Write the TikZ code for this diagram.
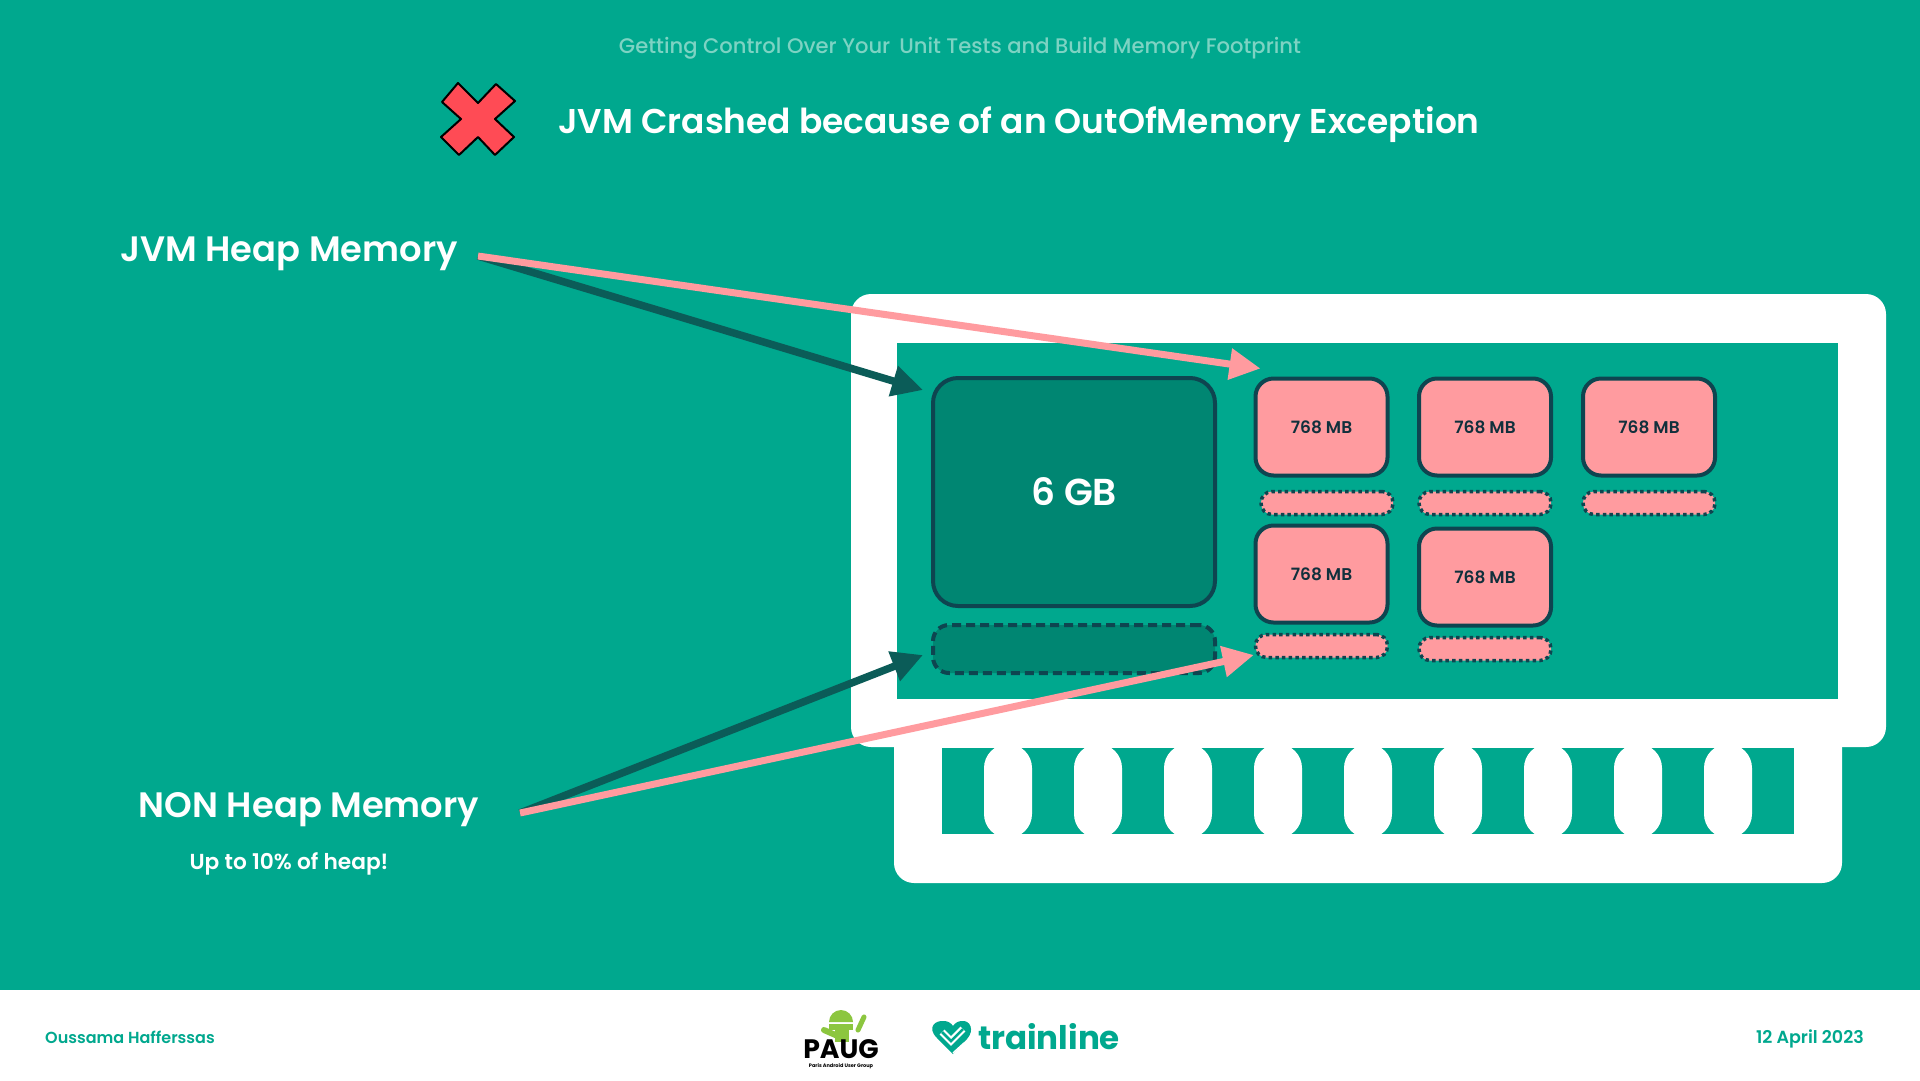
\documentclass[tikz,border=0pt]{standalone}
\usepackage{fontspec}
\usepackage{tikz}
\usetikzlibrary{arrows.meta}
\setmainfont{Poppins}[UprightFont=* Medium,BoldFont=* SemiBold]
\newfontfamily\logofont{Poppins}[UprightFont=* Bold]
\definecolor{SlideGreen}{HTML}{00A88E}
\definecolor{HeaderMint}{HTML}{7DD3C3}
\definecolor{DeepGreen}{HTML}{008672}
\definecolor{EdgeDark}{HTML}{0E4550}
\definecolor{ChipText}{HTML}{11303C}
\definecolor{ArrowDark}{HTML}{0B5C58}
\definecolor{ChipPink}{HTML}{FF9B9F}
\definecolor{CrossRed}{HTML}{FF4B55}
\definecolor{RobotGreen}{HTML}{8CC63F}
\newcommand{\fsz}[1]{\fontsize{#1}{#1}\selectfont}
\tikzset{
  chipbox/.style={draw=EdgeDark,fill=ChipPink,line width=4pt,rounded corners=18pt,inner sep=0pt,
    minimum width=132pt,minimum height=97pt,text=ChipText,font=\fsz{17}\bfseries},
  chipnative/.style={draw=EdgeDark,fill=ChipPink,line width=3.5pt,dash pattern=on 3.5pt off 3.2pt,rounded corners=11pt,
    inner sep=0pt,minimum width=132pt,minimum height=23pt},
  slidetext/.style={text=white,inner sep=0pt,font=\fsz{35.3}\bfseries},
  heaparrow/.style={ArrowDark,line width=7.5pt,-{Triangle[length=31pt,width=30pt]}},
  chiparrow/.style={ChipPink,line width=7pt,-{Triangle[length=31pt,width=30pt]}},
}
\begin{document}
\begin{tikzpicture}[x=1pt,y=-1pt]
 \useasboundingbox (0,0) rectangle (1920,1080);
 \fill[SlideGreen] (0,0) rectangle (1920,990);
 \fill[white] (0,990) rectangle (1920,1080);
 % header
 \node[text=HeaderMint,inner sep=0pt,font=\fsz{21.1}] (deck) at (960,48) {Getting Control Over Your\, Unit Tests and Build Memory Footprint};
 \node[slidetext,font=\fsz{34.4}\bfseries,anchor=west] (slidetitle) at (558,125) {JVM Crashed because of an OutOfMemory Exception};
 \draw[fill=CrossRed,draw=black,line width=2pt,line join=round]
   (458,83)--(478,103)--(496,84)--(515,101)--(495,119)--(514,137)--(495,155)--(478,137)--(459,155)--(441,137)--(461,119)--(442,102)--cycle;
 % memory stick
 \fill[white,rounded corners=20pt] (851,294) rectangle (1886,747);
 \fill[white,rounded corners=20pt] (894,700) rectangle (1842,883);
 \fill[SlideGreen] (897,343) rectangle (1838,699);
 \fill[SlideGreen] (942,748) rectangle (1794,834);
 \foreach \x in {1008,1098,...,1728}{
   \fill[white,rounded corners=24pt] (\x-24,744) rectangle (\x+24,838);}
 % heap and non heap
 \node[draw=EdgeDark,fill=DeepGreen,line width=4pt,rounded corners=25pt,inner sep=0pt,minimum width=282pt,minimum height=228pt,
   text=white,font=\fsz{37.5}\bfseries] (gbheap) at (1074,492) {6 GB};
 \node[draw=EdgeDark,fill=DeepGreen,line width=4pt,dash pattern=on 9pt off 5pt,rounded corners=16pt,inner sep=0pt,
   minimum width=282pt,minimum height=48pt] (gbnative) at (1074,649) {};
 \foreach \name/\x/\y in {chipa/1321.5/427,chipb/1485/427,chipc/1649/427,chipd/1321.5/574,chipe/1485/577}{
   \node[chipbox] (\name) at (\x,\y) {768 MB};}
 \foreach \name/\x/\y in {nativea/1327/503,nativeb/1485/503,nativec/1649/503,natived/1321.5/646,nativee/1485/649}{
   \node[chipnative] (\name) at (\x,\y) {};}
 % labels and arrows
 \node[slidetext] (heaplabel) at (289,254) {JVM Heap Memory};
 \node[slidetext] (nonheaplabel) at (309,810) {NON Heap Memory};
 \node[slidetext,font=\fsz{21.7}\bfseries] (uptonote) at (289,864) {Up to 10\% of heap!};
 \coordinate (heapfrom) at (478,256);
 \coordinate (nonheapfrom) at (520,813);
 \draw[heaparrow] (heapfrom) -- ([shift={(-8,14)}]gbheap.north west);
 \draw[chiparrow] (heapfrom) -- ([shift={(7,-8)}]chipa.north west);
 \draw[heaparrow] (nonheapfrom) -- ([shift={(-8,6)}]gbnative.west);
 \draw[chiparrow] (nonheapfrom) -- ([shift={(0,9)}]natived.west);
 % footer
 \node[text=SlideGreen,inner sep=0pt,font=\fsz{16}\bfseries,anchor=west] (speaker) at (45,1037) {Oussama Hafferssas};
 \node[text=SlideGreen,inner sep=0pt,font=\fsz{17.5}\bfseries,anchor=east] (talkdate) at (1864,1039) {12 April 2023};
 % paug logo
 \fill[RobotGreen] (829,1022) arc[start angle=180,end angle=360,radius=12] -- cycle;
 \fill[RobotGreen] (829,1024) rectangle (853,1030);
 \fill[RobotGreen] (835,1030) rectangle (849,1042);
 \draw[RobotGreen,line width=6pt,line cap=round] (824,1030)--(840,1037);
 \draw[RobotGreen,line width=5pt,line cap=round] (864,1017)--(858,1030);
 \node[text=black,inner sep=0pt,font=\fsz{26.7}\logofont] (paugword) at (841,1049) {PAUG};
 \node[text=black,inner sep=0pt,font=\fsz{5}\logofont] (paugsub) at (841,1066) {Paris Android User Group};
 % trainline logo
 \fill[SlideGreen] (953,1054)--(937,1038) .. controls (926,1027) and (936,1020) .. (944,1021)
   .. controls (948,1021) and (951,1023) .. (953,1026) .. controls (955,1023) and (958,1021) .. (962,1021)
   .. controls (970,1020) and (975,1030) .. (967,1039)--cycle;
 \draw[white,line width=7pt] (942,1032)--(951,1041)--(963,1029);
 \draw[SlideGreen,line width=2.5pt] (942,1032)--(951,1041)--(963,1029);
 \draw[white,line width=1.5pt] (953,1053)--(964,1043);
 \node[text=SlideGreen,inner sep=0pt,font=\fsz{32.5}\logofont,anchor=west] (trainword) at (978,1037) {trainline};
\end{tikzpicture}
\end{document}
